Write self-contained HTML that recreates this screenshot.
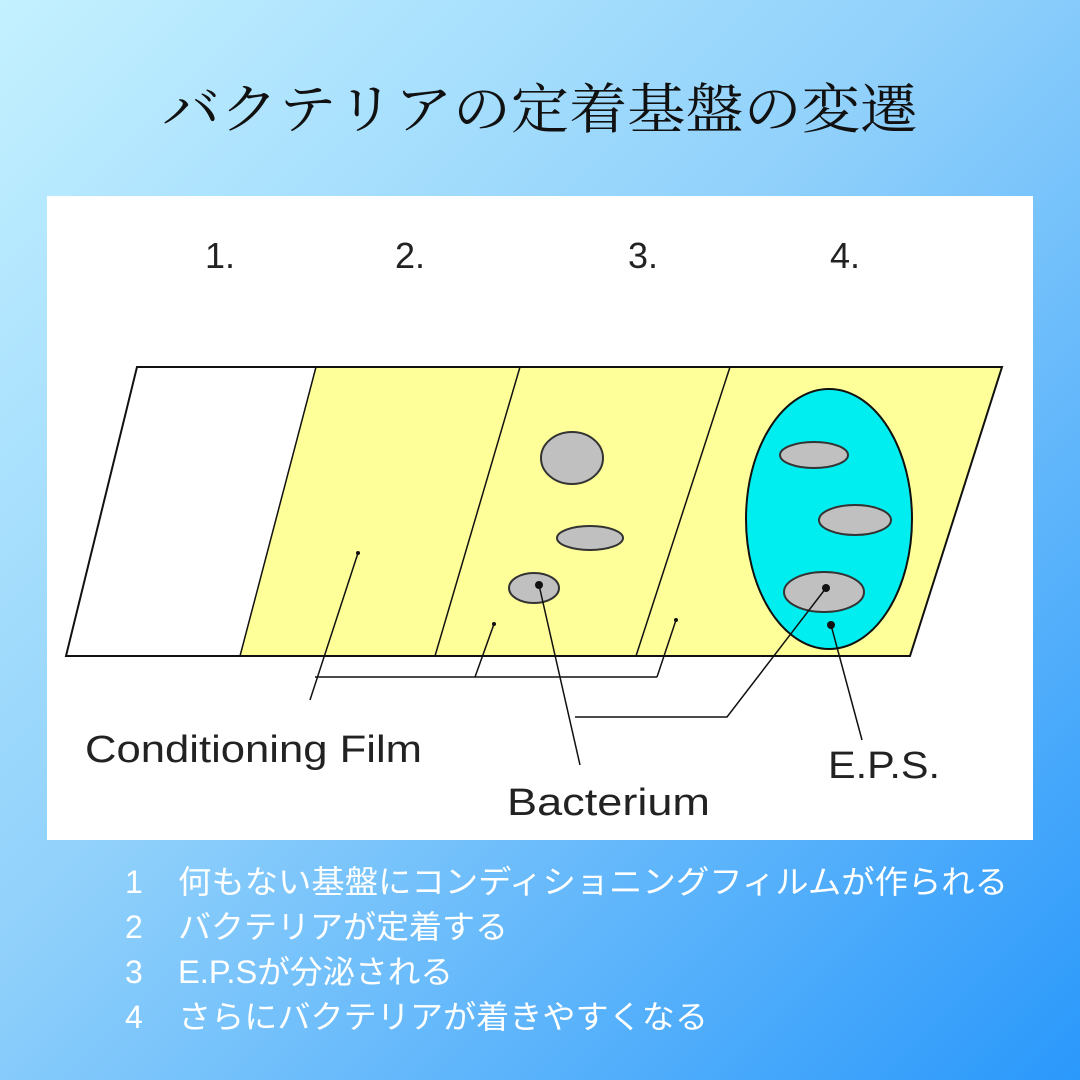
<!DOCTYPE html>
<html><head><meta charset="utf-8"><style>
html,body{margin:0;padding:0;width:1080px;height:1080px;overflow:hidden}
body{background:linear-gradient(135deg,#c4f1ff 0%,#8fd0fb 45%,#2a98fb 100%)}
svg{display:block}
</style></head><body>
<svg width="1080" height="1080" viewBox="0 0 1080 1080" xmlns="http://www.w3.org/2000/svg">
<text x="540" y="128" text-anchor="middle" font-family="'Liberation Serif','Noto Serif CJK SC',serif" font-size="54" fill="#111" textLength="756" lengthAdjust="spacingAndGlyphs">バクテリアの定着基盤の変遷</text>
<rect x="47" y="196" width="986" height="644" fill="#fff"/>
<g font-family="'Liberation Sans',sans-serif" font-size="36" fill="#222">
<text x="205" y="268">1.</text><text x="395" y="268">2.</text><text x="628" y="268">3.</text><text x="830" y="268">4.</text>
</g>
<polygon points="316,367 1002,367 910,656 240,656" fill="#ffff99"/>
<g stroke="#111" stroke-width="2" fill="none">
<polygon points="137,367 1002,367 910,656 66,656"/>
<line x1="316" y1="367" x2="240" y2="656" stroke-width="1.5"/>
<line x1="520" y1="367" x2="435" y2="656" stroke-width="1.5"/>
<line x1="730" y1="367" x2="636" y2="656" stroke-width="1.5"/>
</g>
<ellipse cx="829" cy="519" rx="83" ry="130" fill="#00eef0" stroke="#111" stroke-width="2"/>
<g fill="#c0c0c0" stroke="#333" stroke-width="2">
<ellipse cx="572" cy="458" rx="31" ry="26"/>
<ellipse cx="590" cy="538" rx="33" ry="12"/>
<ellipse cx="534" cy="588" rx="25" ry="15"/>
<ellipse cx="814" cy="455" rx="34" ry="13"/>
<ellipse cx="855" cy="520" rx="36" ry="15"/>
<ellipse cx="824" cy="592" rx="40" ry="20"/>
</g>
<g fill="#111">
<circle cx="358" cy="553" r="2"/><circle cx="494" cy="624" r="2"/><circle cx="676" cy="620" r="2"/>
<circle cx="539" cy="585" r="4"/><circle cx="826" cy="588" r="4"/><circle cx="831" cy="625" r="4"/>
</g>
<g stroke="#111" stroke-width="1.5" fill="none">
<line x1="358" y1="553" x2="310" y2="700"/>
<polyline points="315,677 657,677"/>
<line x1="475" y1="677" x2="494" y2="624"/>
<line x1="657" y1="677" x2="676" y2="620"/>
<line x1="539" y1="585" x2="580" y2="765"/>
<polyline points="826,588 727,717 575,717"/>
<line x1="831" y1="625" x2="862" y2="740"/>
</g>
<g font-family="'Liberation Sans',sans-serif" font-size="38" fill="#222">
<text x="85" y="762" textLength="337" lengthAdjust="spacingAndGlyphs">Conditioning Film</text>
<text x="507" y="815" textLength="203" lengthAdjust="spacingAndGlyphs">Bacterium</text>
<text x="828" y="778" textLength="112" lengthAdjust="spacingAndGlyphs">E.P.S.</text>
</g>
<g font-family="'Liberation Sans','Noto Sans CJK JP',sans-serif" font-size="32" fill="#fff">
<text x="125" y="893">1</text><text x="178" y="893" textLength="830" lengthAdjust="spacingAndGlyphs">何もない基盤にコンディショニングフィルムが作られる</text>
<text x="125" y="938">2</text><text x="178" y="938" textLength="330" lengthAdjust="spacingAndGlyphs">バクテリアが定着する</text>
<text x="125" y="983">3</text><text x="178" y="983" textLength="275" lengthAdjust="spacingAndGlyphs">E.P.Sが分泌される</text>
<text x="125" y="1028">4</text><text x="178" y="1028" textLength="530" lengthAdjust="spacingAndGlyphs">さらにバクテリアが着きやすくなる</text>
</g>
</svg>
</body></html>
